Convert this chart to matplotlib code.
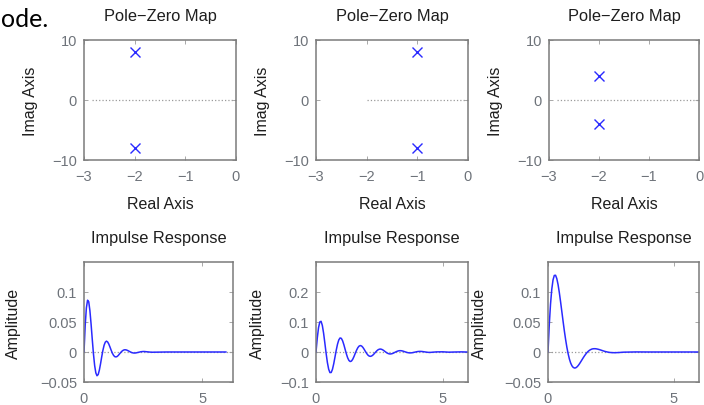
import matplotlib
matplotlib.use("Agg")
import matplotlib.pyplot as plt
from matplotlib.ticker import FuncFormatter

# ---------------- data ----------------
pz_titles = ["Pole\u2212Zero Map"] * 3
pole_re = [[-2, -2], [-1, -1], [-2, -2]]
pole_im = [[8, -8], [8, -8], [4, -4]]
pz_zero_line_start = [-2.85, -2.0, -2.85]

ir_title = "Impulse Response"

t_a = [0.00, 0.05, 0.10, 0.15, 0.20, 0.25, 0.30, 0.35, 0.40, 0.45,
       0.50, 0.55, 0.60, 0.65, 0.70, 0.75, 0.80, 0.85, 0.90, 0.95,
       1.00, 1.05, 1.10, 1.15, 1.20, 1.25, 1.30, 1.35, 1.40, 1.45,
       1.50, 1.55, 1.60, 1.65, 1.70, 1.75, 1.80, 1.85, 1.90, 1.95,
       2.00, 2.05, 2.10, 2.15, 2.20, 2.25, 2.30, 2.35, 2.40, 2.45,
       2.50, 2.55, 2.60, 2.65, 2.70, 2.75, 2.80, 2.85, 2.90, 2.95,
       3.00, 3.50, 4.00, 4.50, 5.00, 5.50, 6.00]

h1 = [0.0, 0.0440, 0.0734, 0.0863, 0.0838, 0.0689, 0.0463, 0.0208, -0.0033, -0.0225,
      -0.0348, -0.0396, -0.0375, -0.0301, -0.0195, -0.0078, 0.0029, 0.0113, 0.0164, 0.0181,
      0.0167, 0.0131, 0.0081, 0.0028, -0.0020, -0.0056, -0.0077, -0.0082, -0.0075, -0.0057,
      -0.0033, -0.0009, 0.0012, 0.0027, 0.0036, 0.0037, 0.0033, 0.0024, 0.0014, 0.0003,
      -0.0007, -0.0013, -0.0017, -0.0017, -0.0015, -0.0010, -0.0006, -0.0001, 0.0004, 0.0006,
      0.0008, 0.0008, 0.0006, 0.0004, 0.0002, 0.0000, -0.0002, -0.0003, -0.0004, -0.0003,
      -0.0003, 0.0, 0.0, 0.0, 0.0, 0.0, 0.0]

t_b = [0.00, 0.05, 0.10, 0.15, 0.20, 0.25, 0.30, 0.35, 0.40, 0.45,
       0.50, 0.55, 0.60, 0.65, 0.70, 0.75, 0.80, 0.85, 0.90, 0.95,
       1.00, 1.05, 1.10, 1.15, 1.20, 1.25, 1.30, 1.35, 1.40, 1.45,
       1.50, 1.55, 1.60, 1.65, 1.70, 1.75, 1.80, 1.85, 1.90, 1.95,
       2.00, 2.05, 2.10, 2.15, 2.20, 2.25, 2.30, 2.35, 2.40, 2.45,
       2.50, 2.55, 2.60, 2.65, 2.70, 2.75, 2.80, 2.85, 2.90, 2.95,
       3.00, 3.05, 3.10, 3.15, 3.20, 3.25, 3.30, 3.35, 3.40, 3.45,
       3.50, 3.55, 3.60, 3.65, 3.70, 3.75, 3.80, 3.85, 3.90, 3.95,
       4.00, 4.05, 4.10, 4.15, 4.20, 4.25, 4.30, 4.35, 4.40, 4.45,
       4.50, 4.75, 5.00, 5.25, 5.50, 5.75, 6.00]

h2 = [0.0, 0.0463, 0.0811, 0.1003, 0.1023, 0.0885, 0.0626, 0.0295, -0.0049, -0.0353,
      -0.0574, -0.0686, -0.0683, -0.0577, -0.0392, -0.0165, 0.0065, 0.0264, 0.0403, 0.0468,
      0.0455, 0.0374, 0.0243, 0.0088, -0.0066, -0.0195, -0.0282, -0.0318, -0.0302, -0.0241,
      -0.0150, -0.0044, 0.0058, 0.0142, 0.0196, 0.0215, 0.0200, 0.0155, 0.0091, 0.0019,
      -0.0049, -0.0103, -0.0136, -0.0145, -0.0131, -0.0099, -0.0055, -0.0006, 0.0039, 0.0074,
      0.0094, 0.0098, 0.0086, 0.0063, 0.0032, -0.0001, -0.0030, -0.0052, -0.0064, -0.0065,
      -0.0056, -0.0040, -0.0018, 0.0004, 0.0023, 0.0037, 0.0044, 0.0044, 0.0037, 0.0025,
      0.0010, -0.0004, -0.0017, -0.0026, -0.0030, -0.0029, -0.0024, -0.0015, -0.0005, 0.0004,
      0.0013, 0.0018, 0.0020, 0.0019, 0.0015, 0.0009, 0.0003, -0.0004, -0.0009, -0.0013,
      -0.0014, 0.0003, 0.0006, -0.0006, 0.0000, 0.0004, -0.0002]

h3 = [0.0, 0.0450, 0.0797, 0.1046, 0.1202, 0.1276, 0.1279, 0.1223, 0.1123, 0.0990,
      0.0836, 0.0673, 0.0509, 0.0351, 0.0207, 0.0079, -0.0029, -0.0117, -0.0183, -0.0229,
      -0.0256, -0.0267, -0.0264, -0.0249, -0.0226, -0.0197, -0.0164, -0.0130, -0.0096, -0.0064,
      -0.0035, -0.0009, 0.0012, 0.0029, 0.0041, 0.0050, 0.0054, 0.0055, 0.0054, 0.0050,
      0.0045, 0.0039, 0.0032, 0.0025, 0.0018, 0.0011, 0.0006, 0.0001, -0.0004, -0.0007,
      -0.0009, -0.0011, -0.0011, -0.0012, -0.0011, -0.0010, -0.0009, -0.0008, -0.0006, -0.0005,
      -0.0003, 0.0001, 0.0, 0.0, 0.0, 0.0, 0.0]

ir_times = [t_a, t_b, t_a]
ir_values = [h1, h2, h3]
ir_xlim = [(0, 6.3), (0, 6.0), (0, 6.0)]
ir_ylim = [(-0.05, 0.15), (-0.1, 0.3), (-0.05, 0.15)]
ir_yticks = [[-0.05, 0, 0.05, 0.1], [-0.1, 0, 0.1, 0.2], [-0.05, 0, 0.05, 0.1]]
ir_xticks = [0, 5]

# ---------------- style ----------------
plt.rcParams['font.family'] = ['Liberation Sans', 'DejaVu Sans']
W, H = 704, 406
fig = plt.figure(figsize=(W / 100, H / 100), dpi=100)

BLUE = '#2a2aff'
SPINE = '#7a7a7a'
TICKC = '#6e737a'
TEXTC = '#1e1e1e'


def fmt(v, pos):
    s = '%g' % v
    return s.replace('-', '\u2212')


def style(ax):
    for sp in ax.spines.values():
        sp.set_color(SPINE)
        sp.set_linewidth(1.1)
    ax.tick_params(direction='in', length=3, width=0.6, color='#9a9a9a',
                   top=True, right=True, labelsize=10.5, labelcolor=TICKC)
    ax.tick_params(axis='x', pad=6.5)
    ax.tick_params(axis='y', pad=5)
    ax.xaxis.set_major_formatter(FuncFormatter(fmt))
    ax.yaxis.set_major_formatter(FuncFormatter(fmt))


def box(l, r, top, bot):
    return [l / W, 1 - bot / H, (r - l) / W, (bot - top) / H]


top_cols = [(84, 236), (316, 468), (549, 699)]
bot_cols = [(84, 233), (316, 468), (548, 699)]
top_ylabelpad = [10.5, 10.5, 10.5]
bot_ylabelpad = [13.5, 11.0, 12.0]

for i in range(3):
    ax = fig.add_axes(box(*top_cols[i], 41, 161))
    style(ax)
    ax.plot([pz_zero_line_start[i], 0], [0, 0], ls=':', color='#9a9a9a', lw=0.9)
    ax.plot(pole_re[i], pole_im[i], ls='none', marker='x', color=BLUE,
            markersize=6.5, markeredgewidth=1.0)
    ax.set_xlim(-3, 0)
    ax.set_ylim(-10, 10)
    ax.set_xticks([-3, -2, -1, 0])
    ax.set_yticks([-10, 0, 10])
    ax.set_title(pz_titles[i], fontsize=11.8, color=TEXTC, pad=14.5)
    ax.set_xlabel('Real Axis', fontsize=11.5, color=TEXTC, labelpad=9)
    ax.set_ylabel('Imag Axis', fontsize=11.5, color=TEXTC, labelpad=top_ylabelpad[i])

for i in range(3):
    ax = fig.add_axes(box(*bot_cols[i], 263, 383))
    style(ax)
    ax.plot(ir_xlim[i], [0, 0], ls=':', color='#9a9a9a', lw=0.9)
    ax.plot(ir_times[i], ir_values[i], color=BLUE, lw=1.1)
    ax.set_xlim(*ir_xlim[i])
    ax.set_ylim(*ir_ylim[i])
    ax.set_xticks(ir_xticks)
    ax.set_yticks(ir_yticks[i])
    ax.set_title(ir_title, fontsize=11.8, color=TEXTC, pad=14.5)
    ax.set_ylabel('Amplitude', fontsize=11.5, color=TEXTC, labelpad=bot_ylabelpad[i])

fig.text(1 / W, 1 - 27 / H, 'ode.', fontsize=18, family=['Lato', 'DejaVu Sans'],
         color='black', va='baseline', ha='left')

fig.savefig('out.png', dpi=100)
